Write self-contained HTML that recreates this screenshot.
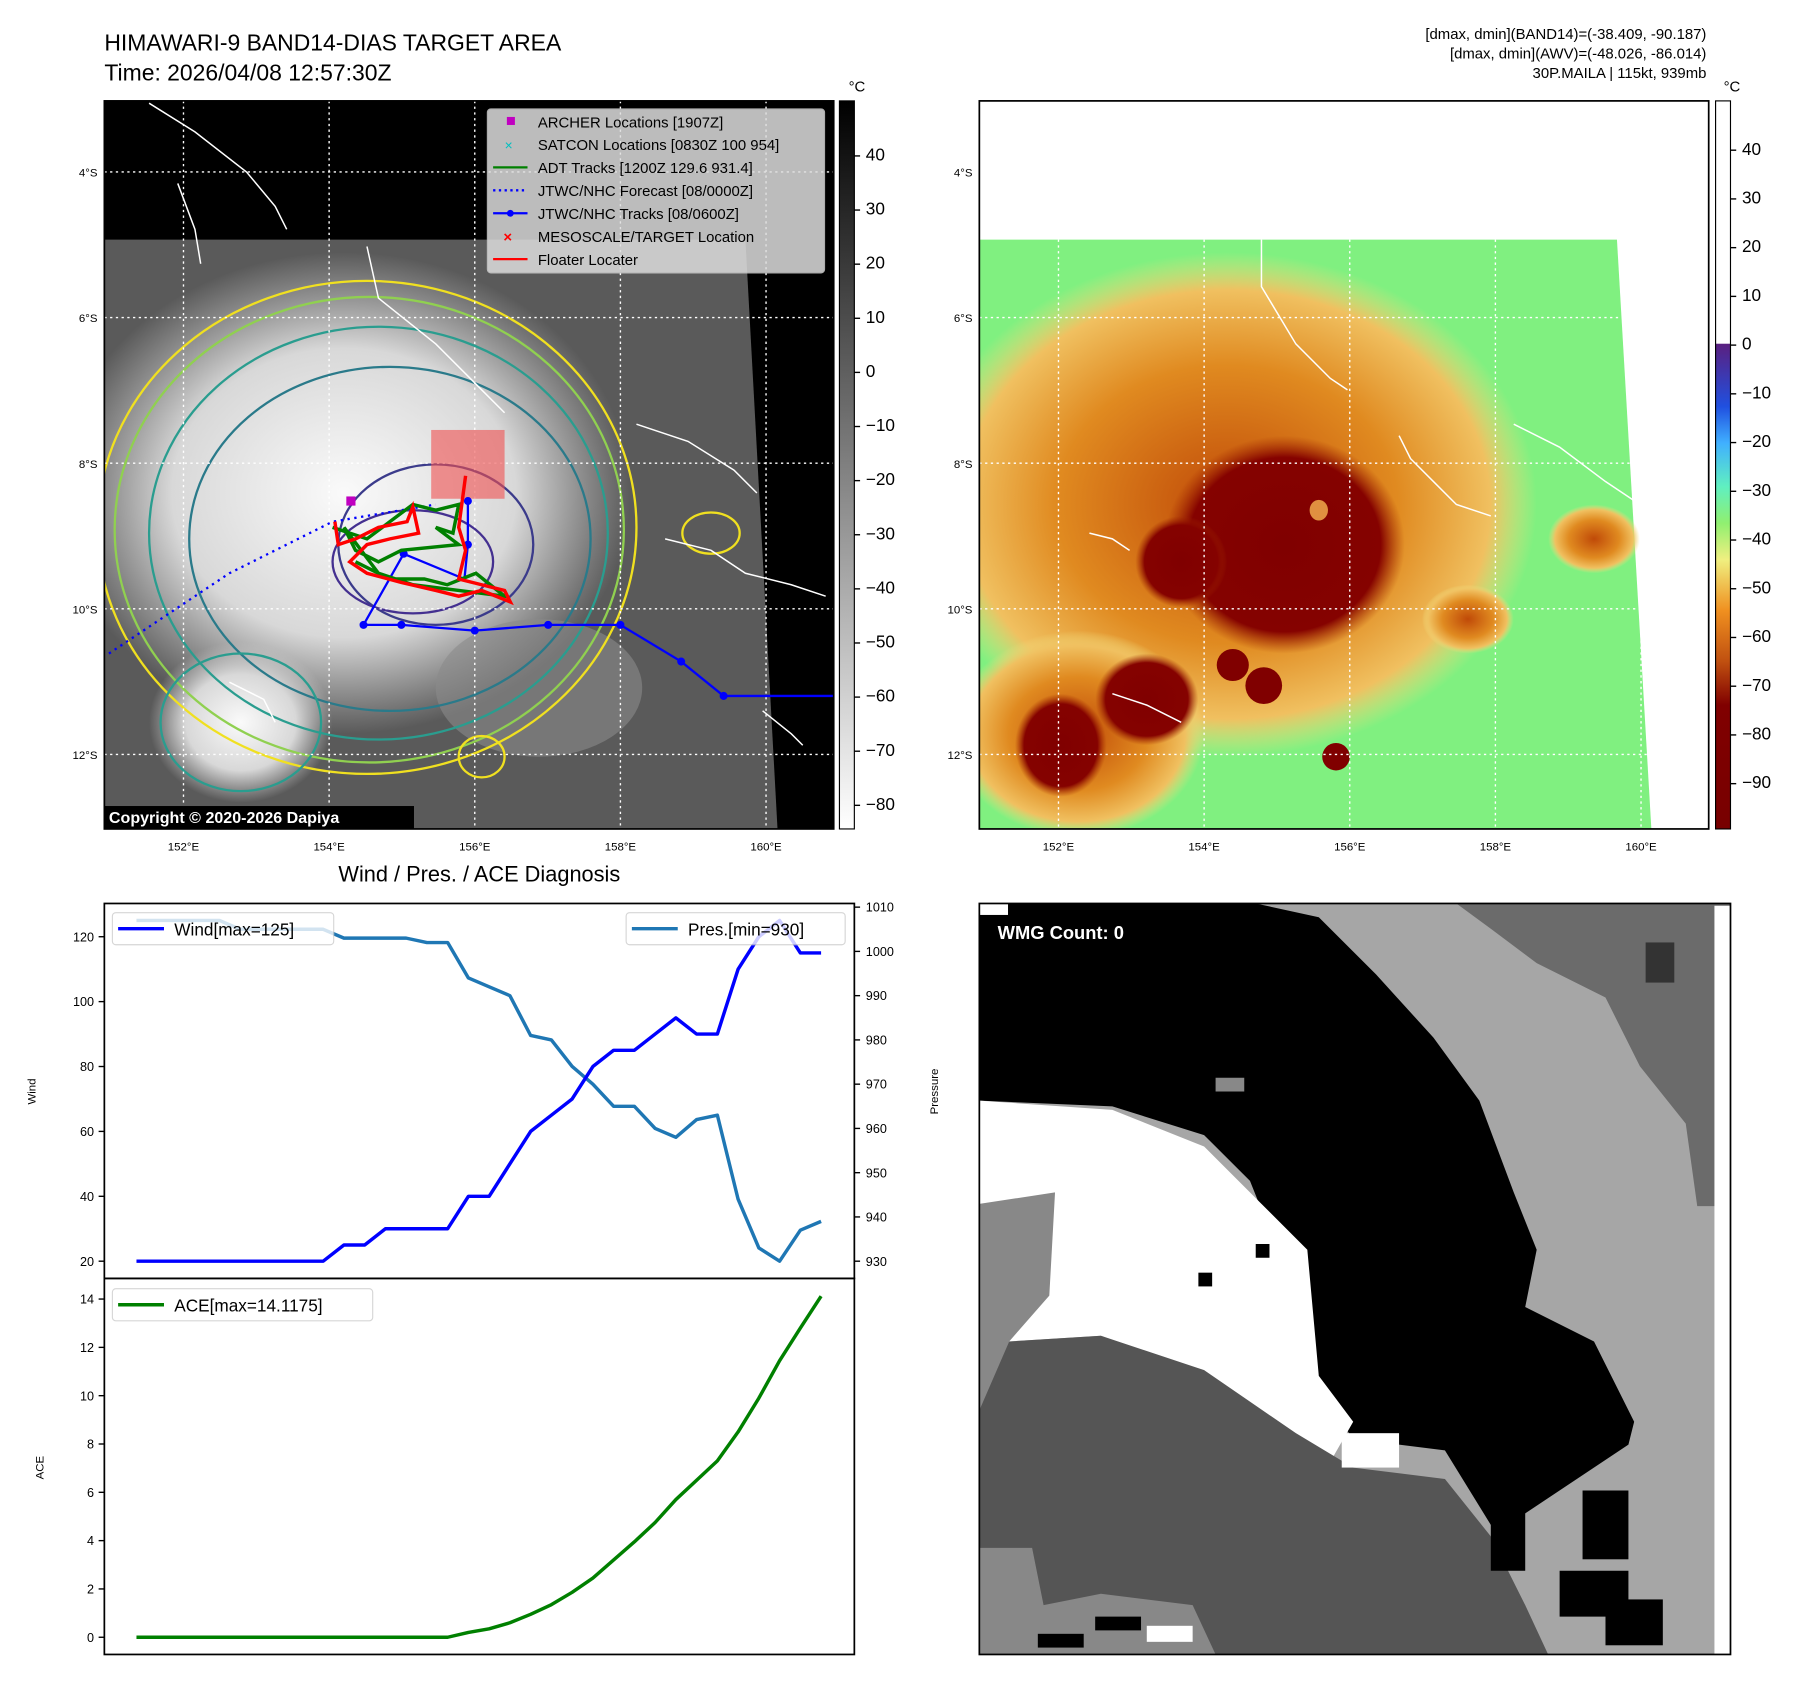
<!DOCTYPE html>
<html><head><meta charset="utf-8"><style>html,body{margin:0;padding:0;background:#fff}svg{display:block}text{font-family:"Liberation Sans","DejaVu Sans",sans-serif}</style></head>
<body>
<svg id="root" xmlns="http://www.w3.org/2000/svg" width="1797" height="1690" viewBox="0 0 1567 1474" preserveAspectRatio="none">
<defs>
<linearGradient id="gcb" x1="0" y1="0" x2="0" y2="1"><stop offset="0" stop-color="#000"/><stop offset="1" stop-color="#fff"/></linearGradient>
<linearGradient id="ccb" x1="0" y1="0" x2="0" y2="1">
<stop offset="0" stop-color="#fff"/><stop offset="0.333" stop-color="#fff"/><stop offset="0.334" stop-color="#5a2080"/>
<stop offset="0.42" stop-color="#2050e0"/><stop offset="0.47" stop-color="#40b0ff"/><stop offset="0.53" stop-color="#60f0c0"/>
<stop offset="0.58" stop-color="#90f070"/><stop offset="0.63" stop-color="#f0f080"/><stop offset="0.70" stop-color="#f09020"/>
<stop offset="0.77" stop-color="#c05010"/><stop offset="0.83" stop-color="#800000"/><stop offset="1" stop-color="#780000"/></linearGradient>
<radialGradient id="irw" cx="0.5" cy="0.5" r="0.5"><stop offset="0" stop-color="#fafafa"/><stop offset="0.6" stop-color="#d8d8d8"/><stop offset="1" stop-color="#d0d0d0" stop-opacity="0"/></radialGradient>
<radialGradient id="org" cx="0.5" cy="0.5" r="0.5"><stop offset="0" stop-color="#c04a08"/><stop offset="0.55" stop-color="#e08a20"/><stop offset="0.85" stop-color="#f0c060"/><stop offset="1" stop-color="#f0e080" stop-opacity="0"/></radialGradient>
<radialGradient id="drk" cx="0.5" cy="0.5" r="0.5"><stop offset="0" stop-color="#800000"/><stop offset="0.8" stop-color="#850200"/><stop offset="1" stop-color="#a02800" stop-opacity="0"/></radialGradient>
<clipPath id="c1"><rect x="91" y="88" width="636" height="635"/></clipPath>
<clipPath id="c2"><rect x="854" y="88" width="636" height="635"/></clipPath>
</defs>

<text x="91" y="44" font-size="20">HIMAWARI-9 BAND14-DIAS TARGET AREA</text>
<text x="91" y="70" font-size="20">Time: 2026/04/08 12:57:30Z</text>
<g font-size="13" text-anchor="end">
<text x="1488" y="34">[dmax, dmin](BAND14)=(-38.409, -90.187)</text>
<text x="1488" y="51">[dmax, dmin](AWV)=(-48.026, -86.014)</text>
<text x="1488" y="68">30P.MAILA | 115kt, 939mb</text></g>

<!-- Left map -->
<g clip-path="url(#c1)">
<rect x="91" y="88" width="636" height="635" fill="#000"/>
<polygon points="91,209 650,209 678,723 91,723" fill="#5a5a5a"/>
<ellipse cx="300" cy="430" rx="250" ry="210" fill="url(#irw)"/>
<ellipse cx="210" cy="630" rx="80" ry="70" fill="url(#irw)"/>
<ellipse cx="470" cy="600" rx="90" ry="60" fill="#8a8a8a" opacity="0.6"/>
<g fill="none" stroke-width="2">
<ellipse cx="320" cy="460" rx="235" ry="215" stroke="#f0e020"/>
<ellipse cx="322" cy="462" rx="222" ry="203" stroke="#90d050"/>
<ellipse cx="330" cy="465" rx="200" ry="180" stroke="#2a9d8f"/>
<ellipse cx="340" cy="470" rx="175" ry="150" stroke="#2a7a8a"/>
<ellipse cx="380" cy="475" rx="85" ry="70" stroke="#3b3b8b"/>
<ellipse cx="360" cy="490" rx="70" ry="45" stroke="#443090"/>
<ellipse cx="210" cy="630" rx="70" ry="60" stroke="#2a9d8f"/>
<ellipse cx="420" cy="660" rx="20" ry="18" stroke="#f0e020"/>
<ellipse cx="620" cy="465" rx="25" ry="18" stroke="#f0e020"/>
</g>
<g fill="none" stroke="#fff" stroke-width="1.3">
<polyline points="130,90 170,115 215,150 240,180 250,200"/>
<polyline points="155,160 170,200 175,230"/>
<polyline points="320,215 330,260 380,300 420,340 440,360"/>
<polyline points="555,370 600,385 640,410 660,430"/>
<polyline points="580,470 620,480 650,500 690,510 720,520"/>
<polyline points="665,620 690,640 700,650"/>
<polyline points="200,595 230,610 240,630"/>
</g>
<g stroke="#fff" stroke-width="1.2" stroke-dasharray="2,3">
<line x1="160" y1="88" x2="160" y2="723"/><line x1="287" y1="88" x2="287" y2="723"/><line x1="414" y1="88" x2="414" y2="723"/><line x1="541" y1="88" x2="541" y2="723"/><line x1="668" y1="88" x2="668" y2="723"/>
<line x1="91" y1="150" x2="727" y2="150"/><line x1="91" y1="277" x2="727" y2="277"/><line x1="91" y1="404" x2="727" y2="404"/><line x1="91" y1="531" x2="727" y2="531"/><line x1="91" y1="658" x2="727" y2="658"/></g>
<rect x="376" y="375" width="64" height="60" fill="#f05050" opacity="0.6"/>
<polyline points="95,570 200,500 290,455 380,440" fill="none" stroke="#0000ff" stroke-width="2" stroke-dasharray="2,4"/>
<g fill="#0000ff">
<polyline points="408,437 408,475 405,505 352,483 317,545 350,545 414,550 478,545 541,545 594,577 631,607 727,607" fill="none" stroke="#0000ff" stroke-width="2"/>
<circle cx="408" cy="437" r="3.5"/><circle cx="408" cy="475" r="3.5"/><circle cx="352" cy="483" r="3.5"/><circle cx="317" cy="545" r="3.5"/><circle cx="350" cy="545" r="3.5"/><circle cx="414" cy="550" r="3.5"/><circle cx="478" cy="545" r="3.5"/><circle cx="541" cy="545" r="3.5"/><circle cx="594" cy="577" r="3.5"/><circle cx="631" cy="607" r="3.5"/></g>
<polyline points="290,460 320,470 340,455 360,440 380,445 400,440 395,465 380,460 400,475 350,480 330,490 310,480 300,460 330,500 360,510 400,515 440,520 415,500 390,510 370,505 340,505 310,490" fill="none" stroke="#008000" stroke-width="3"/>
<polyline points="292,455 295,475 310,470 330,460 355,455 360,442 365,465 340,470 320,475 305,490 320,500 350,508 380,515 400,520 420,515 445,525 440,515 420,510 400,505 406,480 400,460 406,415" fill="none" stroke="#ff0000" stroke-width="3"/>
<rect x="302" y="433" width="8" height="8" fill="#c000c0"/>
<rect x="91" y="703" width="270" height="20" fill="#000"/>
<text x="95" y="718" font-size="14" font-weight="bold" fill="#fff">Copyright © 2020-2026 Dapiya</text>
</g>
<rect x="91" y="88" width="636" height="635" fill="none" stroke="#000" stroke-width="1.5"/>
<g font-size="13">
<rect x="425" y="95" width="294" height="143" fill="#ddd" opacity="0.85" stroke="#ccc" rx="3"/>
<rect x="442" y="102" width="7" height="7" fill="#c000c0"/><text x="469" y="111">ARCHER Locations [1907Z]</text>
<text x="440" y="131" fill="#00c0c0" font-size="12">×</text><text x="469" y="131">SATCON Locations [0830Z 100 954]</text>
<line x1="430" y1="146" x2="460" y2="146" stroke="#008000" stroke-width="2"/><text x="469" y="151">ADT Tracks [1200Z 129.6 931.4]</text>
<line x1="430" y1="166" x2="460" y2="166" stroke="#0000ff" stroke-width="2" stroke-dasharray="2,3"/><text x="469" y="171">JTWC/NHC Forecast [08/0000Z]</text>
<line x1="430" y1="186" x2="460" y2="186" stroke="#0000ff" stroke-width="2"/><circle cx="445" cy="186" r="3" fill="#0000ff"/><text x="469" y="191">JTWC/NHC Tracks [08/0600Z]</text>
<text x="439" y="211" fill="#f00" font-weight="bold">×</text><text x="469" y="211">MESOSCALE/TARGET Location</text>
<line x1="430" y1="226" x2="460" y2="226" stroke="#f00" stroke-width="2"/><text x="469" y="231">Floater Locater</text></g>
<g font-size="10">
<text x="85" y="154" text-anchor="end">4°S</text><text x="85" y="281" text-anchor="end">6°S</text><text x="85" y="408" text-anchor="end">8°S</text><text x="85" y="535" text-anchor="end">10°S</text><text x="85" y="662" text-anchor="end">12°S</text>
<text x="160" y="742" text-anchor="middle">152°E</text><text x="287" y="742" text-anchor="middle">154°E</text><text x="414" y="742" text-anchor="middle">156°E</text><text x="541" y="742" text-anchor="middle">158°E</text><text x="668" y="742" text-anchor="middle">160°E</text></g>
<g font-size="14">
<rect x="732" y="88" width="13" height="635" fill="url(#gcb)" stroke="#000"/>
<text x="740" y="80" font-size="13">°C</text>
<g id="cb1"></g></g>

<!-- Right map -->
<g clip-path="url(#c2)">
<rect x="854" y="88" width="636" height="635" fill="#fff"/>
<polygon points="854,209 1410,209 1440,723 854,723" fill="#80f080"/>
<ellipse cx="1070" cy="440" rx="270" ry="220" fill="url(#org)"/>
<ellipse cx="940" cy="640" rx="110" ry="90" fill="url(#org)"/>
<ellipse cx="1390" cy="470" rx="40" ry="30" fill="url(#org)"/>
<ellipse cx="1280" cy="540" rx="40" ry="30" fill="url(#org)"/>
<ellipse cx="1120" cy="475" rx="105" ry="95" fill="url(#drk)"/>
<ellipse cx="1000" cy="610" rx="45" ry="40" fill="url(#drk)"/>
<ellipse cx="925" cy="650" rx="40" ry="45" fill="url(#drk)"/>
<ellipse cx="1030" cy="490" rx="40" ry="40" fill="url(#drk)"/>
<circle cx="1075" cy="580" r="14" fill="#800000"/><circle cx="1102" cy="598" r="16" fill="#800000"/><circle cx="1165" cy="660" r="12" fill="#800000"/>
<ellipse cx="1150" cy="445" rx="8" ry="9" fill="#e09040"/>
<g fill="none" stroke="#fff" stroke-width="1.3">
<polyline points="1100,209 1100,250 1130,300 1160,330 1175,340"/>
<polyline points="1320,370 1360,390 1400,420 1430,440"/>
<polyline points="950,465 970,470 985,480"/><polyline points="970,605 1000,615 1030,630"/>
<polyline points="1220,380 1230,400 1250,420 1270,440 1300,450"/></g>
<g stroke="#fff" stroke-width="1.2" stroke-dasharray="2,3">
<line x1="923" y1="209" x2="923" y2="723"/><line x1="1050" y1="209" x2="1050" y2="723"/><line x1="1177" y1="209" x2="1177" y2="723"/><line x1="1304" y1="209" x2="1304" y2="723"/><line x1="1431" y1="209" x2="1431" y2="723"/>
<line x1="854" y1="277" x2="1420" y2="277"/><line x1="854" y1="404" x2="1427" y2="404"/><line x1="854" y1="531" x2="1433" y2="531"/><line x1="854" y1="658" x2="1440" y2="658"/></g>
</g>
<rect x="854" y="88" width="636" height="635" fill="none" stroke="#000" stroke-width="1.5"/>
<g font-size="10">
<text x="848" y="154" text-anchor="end">4°S</text><text x="848" y="281" text-anchor="end">6°S</text><text x="848" y="408" text-anchor="end">8°S</text><text x="848" y="535" text-anchor="end">10°S</text><text x="848" y="662" text-anchor="end">12°S</text>
<text x="923" y="742" text-anchor="middle">152°E</text><text x="1050" y="742" text-anchor="middle">154°E</text><text x="1177" y="742" text-anchor="middle">156°E</text><text x="1304" y="742" text-anchor="middle">158°E</text><text x="1431" y="742" text-anchor="middle">160°E</text></g>
<g font-size="14">
<rect x="1496" y="88" width="13" height="635" fill="url(#ccb)" stroke="#000"/>
<text x="1503" y="80" font-size="13">°C</text>
<g id="cb2"></g></g>

<!-- Diagnosis chart -->
<text x="418" y="769" font-size="19" text-anchor="middle">Wind / Pres. / ACE Diagnosis</text>
<g id="chart"></g>
<rect x="91" y="788" width="654" height="327" fill="none" stroke="#000" stroke-width="1.5"/>
<rect x="91" y="1115" width="654" height="328" fill="none" stroke="#000" stroke-width="1.5"/>
<text transform="translate(31,952) rotate(-90)" font-size="10" text-anchor="middle">Wind</text>
<text transform="translate(38,1280) rotate(-90)" font-size="10" text-anchor="middle">ACE</text>
<text transform="translate(818,952) rotate(-90)" font-size="10" text-anchor="middle">Pressure</text>
<g><rect x="98" y="796" width="193" height="28" fill="#fff" opacity="0.8" stroke="#ccc" rx="3"/><line x1="103" y1="810" x2="143" y2="810" stroke="#0000ff" stroke-width="3"/><text x="152" y="816" font-size="15">Wind[max=125]</text></g>
<g><rect x="546" y="796" width="191" height="28" fill="#fff" opacity="0.8" stroke="#ccc" rx="3"/><line x1="551" y1="810" x2="591" y2="810" stroke="#1f77b4" stroke-width="3"/><text x="600" y="816" font-size="15">Pres.[min=930]</text></g>
<g><rect x="98" y="1124" width="227" height="28" fill="#fff" opacity="0.8" stroke="#ccc" rx="3"/><line x1="103" y1="1138" x2="143" y2="1138" stroke="#008000" stroke-width="3"/><text x="152" y="1144" font-size="15">ACE[max=14.1175]</text></g>

<!-- WMG map -->
<g>
<rect x="854" y="788" width="655" height="655" fill="#a6a6a6"/>
<polygon points="1270,788 1509,788 1509,1052 1480,1052 1470,980 1430,930 1400,870 1340,840 1300,810" fill="#6b6b6b"/>
<polygon points="854,788 1095,788 1150,800 1200,850 1250,905 1290,960 1320,1040 1340,1090 1330,1140 1390,1170 1425,1240 1420,1260 1330,1320 1300,1330 1260,1265 1180,1255 1140,1200 1110,1080 1090,1030 1050,990 970,965 854,960" fill="#000"/>
<polygon points="854,960 970,968 1050,1000 1100,1050 1140,1090 1150,1200 1180,1240 1160,1275 1080,1230 1050,1195 1000,1180 960,1165 880,1170 880,1100 854,1050" fill="#fff"/>
<polygon points="854,1050 920,1040 915,1130 880,1170 854,1230" fill="#888"/>
<polygon points="854,1230 880,1170 960,1165 1050,1195 1130,1250 1180,1280 1260,1290 1300,1340 1330,1400 1350,1443 854,1443" fill="#555"/>
<polygon points="854,1350 900,1350 910,1400 960,1390 1040,1400 1060,1443 854,1443" fill="#888"/>
<rect x="905" y="1425" width="40" height="12" fill="#000"/><rect x="955" y="1410" width="40" height="12" fill="#000"/><rect x="1000" y="1418" width="40" height="14" fill="#fff"/>
<rect x="1380" y="1300" width="40" height="60" fill="#000"/><rect x="1360" y="1370" width="60" height="40" fill="#000"/><rect x="1400" y="1395" width="50" height="40" fill="#000"/>
<rect x="1300" y="1310" width="30" height="60" fill="#000"/><rect x="1170" y="1250" width="50" height="30" fill="#fff"/>
<rect x="1095" y="1085" width="12" height="12" fill="#000"/><rect x="1045" y="1110" width="12" height="12" fill="#000"/>
<rect x="1060" y="940" width="25" height="12" fill="#888"/><rect x="1435" y="822" width="25" height="35" fill="#333"/><rect x="1495" y="790" width="14" height="653" fill="#fff"/>
<rect x="854" y="788" width="25" height="10" fill="#fff"/>
<text x="870" y="819" font-size="16" font-weight="bold" fill="#fff">WMG Count: 0</text>
</g>
<rect x="854" y="788" width="655" height="655" fill="none" stroke="#000" stroke-width="1.5"/>
</svg>
<script>
const NS='http://www.w3.org/2000/svg';
const windValues=[20,20,20,20,20,20,20,20,20,20,25,25,30,30,30,30,40,40,50,60,65,70,80,85,85,90,95,90,90,110,120,125,115,115];
const presValues=[1007,1007,1007,1007,1007,1005,1005,1005,1005,1005,1003,1003,1003,1003,1002,1002,994,992,990,981,980,974,970,965,965,960,958,962,963,944,933,930,937,939];
const aceValues=[0,0,0,0,0,0,0,0,0,0,0,0,0,0,0,0,0.2,0.35,0.6,0.95,1.35,1.86,2.45,3.2,3.95,4.75,5.7,6.5,7.3,8.5,9.9,11.45,12.8,14.1175];
const windTicks=[20,40,60,80,100,120];
const presTicks=[930,940,950,960,970,980,990,1000,1010];
const aceTicks=[0,2,4,6,8,10,12,14];
const irTicks=[40,30,20,10,0,-10,-20,-30,-40,-50,-60,-70,-80];
const awvTicks=[40,30,20,10,0,-10,-20,-30,-40,-50,-60,-70,-80,-90];
const xS=i=>119+i*(716-119)/(windValues.length-1);
const yW=v=>1100-(v-20)*2.83;
const yP=v=>1100-(v-930)*3.86;
const yA=v=>1428-v*21.07;
const yIR=v=>136-(v-40)*4.72;
const yAWV=v=>131-(v-40)*4.25;
const chart=document.getElementById('chart');
function mk(tag,attrs,parent){const e=document.createElementNS(NS,tag);for(const k in attrs)e.setAttribute(k,attrs[k]);parent.appendChild(e);return e;}
function line(vals,yf,color,name){
  const p=mk('polyline',{points:vals.map((v,i)=>xS(i)+','+yf(v)).join(' '),fill:'none',stroke:color,'stroke-width':3,'stroke-linejoin':'round'},chart);
  
  
}
line(presValues,yP,'#1f77b4','pressure-line');
line(windValues,yW,'#0000ff','wind-line');
line(aceValues,yA,'#008000','ace-line');
function ticks(arr,yf,x,side,prefix,parent,fs){
  arr.forEach(v=>{const y=yf(v);
    const t=mk('line',{x1:x,x2:x+(side<0?-5:5),y1:y,y2:y,stroke:'#000','stroke-width':1.2},parent);
    
    
    const tx=mk('text',{x:side<0?x-9:x+10,y:y+4,'font-size':fs,'text-anchor':side<0?'end':'start'},parent);
    tx.textContent=String(v).replace('-','\u2212');
    
    });
}
ticks(windTicks,yW,91,-1,'wind',chart,11);
ticks(presTicks,yP,745,1,'pressure',chart,11);
ticks(aceTicks,yA,91,-1,'ace',chart,11);
ticks(irTicks,yIR,745,1,'ir-colorbar',document.getElementById('cb1'),15);
ticks(awvTicks,yAWV,1509,1,'awv-colorbar',document.getElementById('cb2'),15);
</script>
</body></html>
